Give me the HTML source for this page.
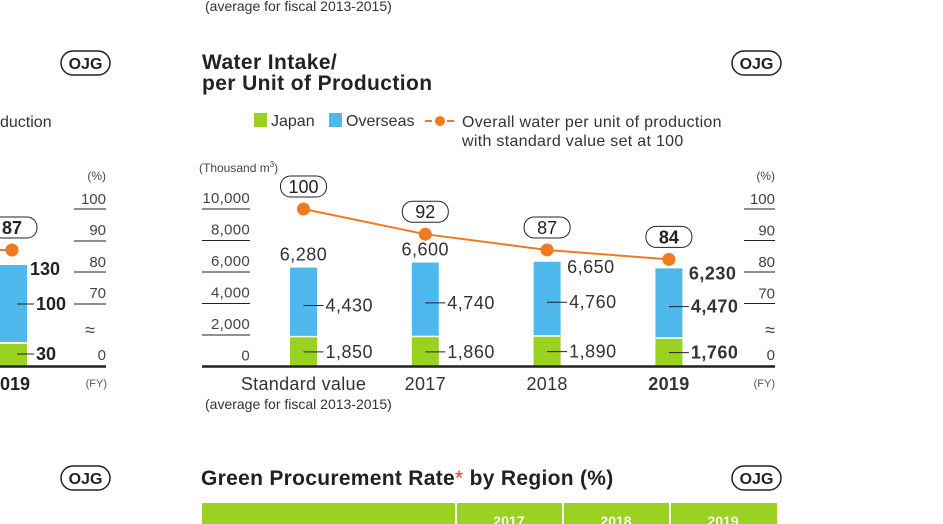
<!DOCTYPE html>
<html><head><meta charset="utf-8"><style>
html,body{margin:0;padding:0;background:#fff;}
svg{display:block;font-family:"Liberation Sans",sans-serif;}
</style></head><body>
<svg id="c" width="943" height="524" viewBox="0 0 943 524">
<text x="205" y="11" font-size="14" fill="#333">(average for fiscal 2013-2015)</text>
<g>
<rect x="61" y="51" width="49" height="24" rx="12" fill="none" stroke="#222" stroke-width="1.5"/>
<text x="85.5" y="69" font-size="16" font-weight="bold" text-anchor="middle" fill="#222">OJG</text>
<text x="0" y="127" font-size="16" fill="#333">duction</text>
<text x="106" y="180" font-size="12" text-anchor="end" fill="#444">(%)</text>
<g font-size="15" fill="#444" text-anchor="end">
<text x="106" y="204">100</text><text x="106" y="235">90</text><text x="106" y="267">80</text><text x="106" y="298">70</text><text x="106" y="360">0</text></g>
<g stroke="#222" stroke-width="1"><line x1="74" x2="106" y1="209" y2="209"/><line x1="74" x2="106" y1="241" y2="241"/><line x1="74" x2="106" y1="272" y2="272"/><line x1="74" x2="106" y1="304" y2="304"/></g>
<text x="90" y="336" font-size="18" text-anchor="middle" fill="#444">≈</text>
<rect x="0" y="265" width="27" height="77" fill="#4fb8ec"/>
<rect x="0" y="344" width="27" height="22" fill="#99d220"/>
<line x1="0" x2="12" y1="250" y2="250" stroke="#f07a1e" stroke-width="2"/>
<circle cx="12" cy="250" r="6.5" fill="#f07a1e"/>
<rect x="-10" y="217" width="47" height="21" rx="10" fill="#fff" stroke="#222"/>
<text x="12" y="234" font-size="18" font-weight="bold" text-anchor="middle" fill="#222">87</text>
<text x="30" y="275" font-size="18" font-weight="bold" fill="#222">130</text>
<line x1="17" x2="34" y1="304" y2="304" stroke="#222"/><text x="36" y="310" font-size="18" font-weight="bold" fill="#222">100</text>
<line x1="17" x2="34" y1="354" y2="354" stroke="#222"/><text x="36" y="360" font-size="18" font-weight="bold" fill="#222">30</text>
<line x1="0" x2="106" y1="366.5" y2="366.5" stroke="#222" stroke-width="2.5"/>
<text x="-10" y="390" font-size="18" font-weight="bold" fill="#222">2019</text>
<text x="107" y="387" font-size="11" text-anchor="end" fill="#555">(FY)</text>
</g>
<g>
<text x="202" y="69" font-size="21" font-weight="bold" letter-spacing="0.4" fill="#222">Water Intake/</text>
<text x="202" y="90" font-size="21" font-weight="bold" letter-spacing="0.4" fill="#222">per Unit of Production</text>
<rect x="732" y="51" width="49" height="24" rx="12" fill="none" stroke="#222" stroke-width="1.5"/>
<text x="756.5" y="69" font-size="16" font-weight="bold" text-anchor="middle" fill="#222">OJG</text>
<g>
<rect x="254" y="113" width="13" height="14" fill="#99d220"/>
<text x="271" y="126" font-size="16" fill="#333">Japan</text>
<rect x="329" y="113" width="13" height="14" fill="#4fb8ec"/>
<text x="346" y="126" font-size="16" fill="#333">Overseas</text>
<line x1="425" x2="455" y1="121" y2="121" stroke="#f07a1e" stroke-width="2" stroke-dasharray="7,4"/>
<circle cx="440" cy="121" r="5" fill="#f07a1e"/>
<text x="462" y="127" font-size="16" letter-spacing="0.3" fill="#333">Overall water per unit of production</text>
<text x="462" y="146" font-size="16" letter-spacing="0.3" fill="#333">with standard value set at 100</text>
</g>
<text x="199" y="172" font-size="12" fill="#444">(Thousand m<tspan font-size="8" dy="-5">3</tspan><tspan dy="5">)</tspan></text>
<text x="775" y="180" font-size="12" text-anchor="end" fill="#444">(%)</text>
<g id="axes"></g>
<g id="marks"></g>
<text x="775" y="387" font-size="11" text-anchor="end" fill="#555">(FY)</text>
<text x="775" y="336" font-size="18" text-anchor="end" fill="#444">≈</text>
<text x="205" y="409" font-size="14" fill="#333">(average for fiscal 2013-2015)</text>
</g>
<g>
<rect x="61" y="466" width="49" height="24" rx="12" fill="none" stroke="#222" stroke-width="1.5"/>
<text x="85.5" y="484" font-size="16" font-weight="bold" text-anchor="middle" fill="#222">OJG</text>
<text x="201" y="485" font-size="21" font-weight="bold" letter-spacing="0.3" fill="#222">Green Procurement Rate<tspan fill="#e53935" font-weight="normal">*</tspan> by Region (%)</text>
<rect x="732" y="466" width="49" height="24" rx="12" fill="none" stroke="#222" stroke-width="1.5"/>
<text x="756.5" y="484" font-size="16" font-weight="bold" text-anchor="middle" fill="#222">OJG</text>
<rect x="202" y="503" width="575" height="25" fill="#99d220"/>
<g stroke="#fff" stroke-width="2"><line x1="456" x2="456" y1="503" y2="524"/><line x1="563" x2="563" y1="503" y2="524"/><line x1="670" x2="670" y1="503" y2="524"/></g>
<g font-size="14" font-weight="bold" fill="#fff" text-anchor="middle"><text x="509" y="526">2017</text><text x="616" y="526">2018</text><text x="723" y="526">2019</text></g>
</g>
</svg>
<script>
const categories=["Standard value","2017","2018","2019"];
const japan=[1850,1860,1890,1760];
const overseas=[4430,4740,4760,4470];
const totals=[6280,6600,6650,6230];
const overall=[100,92,87,84];
const leftTicks=["0","2,000","4,000","6,000","8,000","10,000"];
const rightTicks=["70","80","90","100"];
const NS="http://www.w3.org/2000/svg";
function yL(v){return 366.5-v*0.01575;}
function yR(v){return 209+(100-v)*3.15;}
function xC(i){return 303.5+i*121.8;}
function mk(t,a,p,txt){const e=document.createElementNS(NS,t);for(const k in a)e.setAttribute(k,a[k]);if(txt!==undefined)e.textContent=txt;p.appendChild(e);return e;}
const ax=document.getElementById('axes'),m=document.getElementById('marks');
leftTicks.forEach((t,i)=>{const v=i*2000;const y=yL(v);
 const e=mk('text',{x:250,y:y-6,'font-size':15,'letter-spacing':0.3,'text-anchor':'end',fill:'#444'},ax,t);
 
 
 if(v>0){const l=mk('line',{x1:202,x2:250,y1:y,y2:y,stroke:'#222'},ax);
 
 }
});
rightTicks.forEach(t=>{const y=yR(+t);
 const e=mk('text',{x:775,y:y-5,'font-size':15,'text-anchor':'end',fill:'#444'},ax,t);
 
 
 const l=mk('line',{x1:744,x2:775,y1:y,y2:y,stroke:'#222'},ax);
 
 
});
const z=mk('text',{x:775,y:360,'font-size':15,'text-anchor':'end',fill:'#444'},ax,'0');


const bw=27;
categories.forEach((c,i)=>{const x=xC(i);const bold=i===3?'bold':'normal';
 const g=mk('rect',{x:x-bw/2,y:yL(japan[i]),width:bw,height:yL(0)-yL(japan[i]),fill:'#99d220'},m);
 
 
 const o=mk('rect',{x:x-bw/2,y:yL(totals[i]),width:bw,height:yL(japan[i])-yL(totals[i])-1.5,fill:'#4fb8ec'},m);
 
 
 mk('line',{x1:x,x2:x+20,y1:yL(japan[i]/2),y2:yL(japan[i]/2),stroke:'#222'},m);
 mk('text',{x:x+22,y:yL(japan[i]/2)+6,'font-size':18,'letter-spacing':0.5,'font-weight':bold,fill:'#333'},m,japan[i].toLocaleString('en-US'));
 const ym=yL(japan[i]+overseas[i]/2)+3;
 mk('line',{x1:x,x2:x+20,y1:ym,y2:ym,stroke:'#222'},m);
 mk('text',{x:x+22,y:ym+6,'font-size':18,'letter-spacing':0.5,'font-weight':bold,fill:'#333'},m,overseas[i].toLocaleString('en-US'));
 const tl=mk('text',{x:(i>=2?x+20:x),y:(i>=2?yL(totals[i])+11:yL(totals[i])-7),'font-size':18,'letter-spacing':0.5,'font-weight':bold,'text-anchor':(i>=2?'start':'middle'),fill:'#333'},m,totals[i].toLocaleString('en-US'));
 
 
 const cl=mk('text',{x:x,y:390,'font-size':18,'letter-spacing':0.3,'font-weight':bold,'text-anchor':'middle',fill:'#333'},m,c);
 
 
});
const base=mk('line',{x1:202,x2:775,y1:366.5,y2:366.5,stroke:'#222','stroke-width':2.5},m);


const pts=overall.map((v,i)=>xC(i)+','+yR(v)).join(' ');
const pl=mk('polyline',{points:pts,fill:'none',stroke:'#f07a1e','stroke-width':2},m);


overall.forEach((v,i)=>{const x=xC(i),y=yR(v);
 const c=mk('circle',{cx:x,cy:y,r:6.5,fill:'#f07a1e'},m);
 
 
 const w=46;
 const py=y-22;
 mk('rect',{x:x-w/2,y:py-11,width:w,height:21,rx:10,fill:'#fff',stroke:'#222'},m);
 const t=mk('text',{x:x,y:py+6,'font-size':18,'font-weight':i===3?'bold':'normal','text-anchor':'middle',fill:'#222'},m,v);
 
 
});
</script>
</body></html>
